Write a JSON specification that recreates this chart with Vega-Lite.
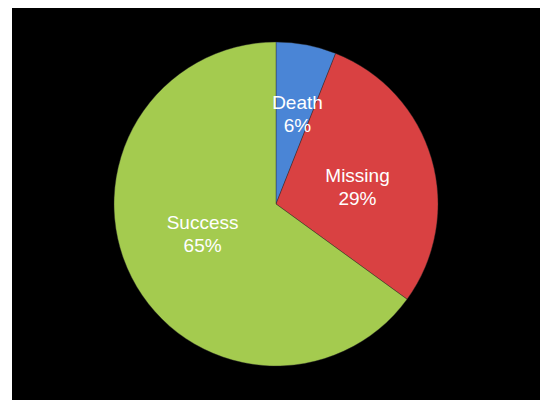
{
  "$schema": "https://vega.github.io/schema/vega-lite/v6.json",
  "autosize": {"type": "fit", "contains": "padding"},
  "width": 540,
  "height": 400,
  "padding": {"left": 12, "top": 8, "right": 0, "bottom": 0},
  "background": "white",
  "config": {"view": {"stroke": null}},
  "data": {
    "values": [
      {"category": "Death", "value": 6, "order": 1, "label": "Death\n6%"},
      {"category": "Missing", "value": 29, "order": 2, "label": "Missing\n29%"},
      {"category": "Success", "value": 65, "order": 3, "label": "Success\n65%"}
    ]
  },
  "layer": [
    {
      "data": {"values": [{"bg": 1}]},
      "mark": {"type": "rect", "fill": "black"},
      "encoding": {
        "x": {"value": 0},
        "x2": {"value": "width"},
        "y": {"value": 0},
        "y2": {"value": "height"}
      }
    },
    {
      "mark": {"type": "arc", "outerRadius": 162, "stroke": "#2a2a2a", "strokeWidth": 0.4},
      "encoding": {
        "theta": {"field": "value", "type": "quantitative", "stack": true, "scale": {"domain": [0, 100]}},
        "order": {"field": "order", "type": "quantitative"},
        "color": {
          "field": "category",
          "type": "nominal",
          "scale": {"domain": ["Death", "Missing", "Success"], "range": ["#4a85d6", "#d94142", "#a4cb4f"]},
          "legend": null
        }
      }
    },
    {
      "transform": [
        {"stack": "value", "sort": [{"field": "order"}], "groupby": [], "as": ["v0", "v1"]},
        {"calculate": "(datum.v0 + datum.v1) / 2", "as": "mid"},
        {"filter": "datum.category === 'Death'"}
      ],
      "mark": {"type": "text", "radius": 88, "dx": 5, "dy": -15, "fontSize": 19, "font": "Liberation Sans", "fill": "white", "lineBreak": "\n", "lineHeight": 23, "align": "center", "baseline": "middle"},
      "encoding": {
        "theta": {"field": "mid", "type": "quantitative", "stack": null, "scale": {"domain": [0, 100]}},
        "text": {"field": "label", "type": "nominal"}
      }
    },
    {
      "transform": [
        {"stack": "value", "sort": [{"field": "order"}], "groupby": [], "as": ["v0", "v1"]},
        {"calculate": "(datum.v0 + datum.v1) / 2", "as": "mid"},
        {"filter": "datum.category === 'Missing'"}
      ],
      "mark": {"type": "text", "radius": 88, "dx": -3, "dy": -3, "fontSize": 19, "font": "Liberation Sans", "fill": "white", "lineBreak": "\n", "lineHeight": 23, "align": "center", "baseline": "middle"},
      "encoding": {
        "theta": {"field": "mid", "type": "quantitative", "stack": null, "scale": {"domain": [0, 100]}},
        "text": {"field": "label", "type": "nominal"}
      }
    },
    {
      "transform": [
        {"stack": "value", "sort": [{"field": "order"}], "groupby": [], "as": ["v0", "v1"]},
        {"calculate": "(datum.v0 + datum.v1) / 2", "as": "mid"},
        {"filter": "datum.category === 'Success'"}
      ],
      "mark": {"type": "text", "radius": 88, "dx": 5, "dy": -21, "fontSize": 19, "font": "Liberation Sans", "fill": "white", "lineBreak": "\n", "lineHeight": 23, "align": "center", "baseline": "middle"},
      "encoding": {
        "theta": {"field": "mid", "type": "quantitative", "stack": null, "scale": {"domain": [0, 100]}},
        "text": {"field": "label", "type": "nominal"}
      }
    }
  ],
  "resolve": {"scale": {"theta": "shared"}}
}
